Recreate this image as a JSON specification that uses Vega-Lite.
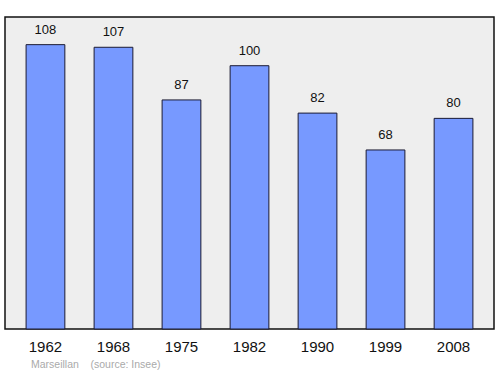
{
  "$schema": "https://vega.github.io/schema/vega-lite/v6.json",
  "width": 489,
  "height": 312,
  "autosize": {"type": "none"},
  "padding": {"left": 5, "top": 17, "right": 6, "bottom": 45},
  "background": "white",
  "config": {
    "view": {"fill": "#eeeeee", "stroke": "#111111", "strokeWidth": 1.5},
    "font": "Liberation Sans"
  },
  "title": {
    "text": "Marseillan\u00a0\u00a0\u00a0\u00a0(source: Insee)",
    "orient": "bottom",
    "anchor": "start",
    "dx": 26,
    "offset": 6,
    "fontSize": 10.5,
    "fontWeight": "normal",
    "color": "#aaaaaa",
    "font": "Liberation Sans"
  },
  "data": {
    "values": [
      {"year": "1962", "value": 108},
      {"year": "1968", "value": 107},
      {"year": "1975", "value": 87},
      {"year": "1982", "value": 100},
      {"year": "1990", "value": 82},
      {"year": "1999", "value": 68},
      {"year": "2008", "value": 80}
    ]
  },
  "encoding": {
    "x": {
      "field": "year",
      "type": "nominal",
      "sort": null,
      "scale": {"paddingInner": 0.43, "paddingOuter": 0.31},
      "axis": {
        "title": null,
        "domain": false,
        "ticks": false,
        "labelAngle": 0,
        "labelFontSize": 15,
        "labelColor": "#111111",
        "labelPadding": 10
      }
    },
    "y": {
      "field": "value",
      "type": "quantitative",
      "scale": {"domain": [0, 118.5], "nice": false},
      "axis": null
    }
  },
  "layer": [
    {
      "mark": {"type": "bar", "fill": "#7799ff", "stroke": "#1a1a33", "strokeWidth": 1, "cornerRadius": 0}
    },
    {
      "mark": {"type": "text", "baseline": "bottom", "dy": -8, "fontSize": 13, "color": "#111111"},
      "encoding": {"text": {"field": "value", "type": "quantitative"}}
    }
  ]
}
